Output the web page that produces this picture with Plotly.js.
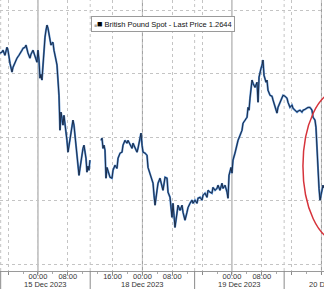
<!DOCTYPE html>
<html>
<head>
<meta charset="utf-8">
<script src="https://cdn.plot.ly/plotly-3.0.1.min.js"></script>
<style>html,body{margin:0;padding:0;background:#fff;}#chart{width:324px;height:289px;}</style>
</head>
<body>
<div id="chart"></div>
<script>
// ---- data (GBP spot, intraday) ----
const seriesName = "British Pound Spot - Last Price 1.2644";
const times = [
 "2023-12-14 13:49","2023-12-14 14:21","2023-12-14 14:37","2023-12-14 15:09","2023-12-14 15:41","2023-12-14 15:57",
 "2023-12-14 16:30","2023-12-14 17:02","2023-12-14 17:18","2023-12-14 17:50","2023-12-14 18:22","2023-12-14 18:54",
 "2023-12-14 19:10","2023-12-14 19:43","2023-12-14 19:59","2023-12-14 20:31","2023-12-14 20:47","2023-12-14 21:03",
 "2023-12-14 21:19","2023-12-14 21:51","2023-12-14 22:07","2023-12-14 22:40","2023-12-14 23:12","2023-12-14 23:44",
 "2023-12-15 00:00","2023-12-15 00:16","2023-12-15 00:32","2023-12-15 00:48","2023-12-15 01:04","2023-12-15 01:20",
 "2023-12-15 01:37","2023-12-15 01:53","2023-12-15 02:09","2023-12-15 02:25","2023-12-15 02:41","2023-12-15 02:57",
 "2023-12-15 03:13","2023-12-15 03:29","2023-12-15 03:45","2023-12-15 04:01","2023-12-15 04:17","2023-12-15 04:33",
 "2023-12-15 04:50","2023-12-15 05:06","2023-12-15 05:22","2023-12-15 05:38","2023-12-15 05:54","2023-12-15 06:10",
 "2023-12-15 06:26","2023-12-15 06:42","2023-12-15 06:58","2023-12-15 07:14","2023-12-15 07:30","2023-12-15 07:46",
 "2023-12-15 08:03","2023-12-15 08:19","2023-12-15 08:35","2023-12-15 08:51","2023-12-15 09:07","2023-12-15 09:23",
 "2023-12-15 09:39","2023-12-15 09:55","2023-12-15 10:11","2023-12-15 10:27","2023-12-15 10:43","2023-12-15 11:00",
 "2023-12-15 11:16","2023-12-15 11:32","2023-12-15 11:48","2023-12-15 12:04","2023-12-15 12:20","2023-12-15 12:36",
 "2023-12-15 12:52","2023-12-15 13:08","2023-12-15 13:24","2023-12-15 13:40","2023-12-15 13:56",
 "2023-12-17 12:00",
 "2023-12-17 12:54","2023-12-17 13:10","2023-12-17 13:26","2023-12-17 13:42","2023-12-17 13:58","2023-12-17 14:14",
 "2023-12-17 14:30","2023-12-17 14:47","2023-12-17 15:03","2023-12-17 15:19","2023-12-17 15:51","2023-12-17 16:07",
 "2023-12-17 16:39","2023-12-17 17:11","2023-12-17 17:28","2023-12-17 18:00","2023-12-17 18:32","2023-12-17 18:48",
 "2023-12-17 19:20","2023-12-17 19:52","2023-12-17 20:08","2023-12-17 20:40","2023-12-17 21:13","2023-12-17 21:29",
 "2023-12-17 22:01","2023-12-17 22:33","2023-12-17 22:49","2023-12-17 23:21","2023-12-17 23:37","2023-12-17 23:54",
 "2023-12-18 00:10","2023-12-18 00:42","2023-12-18 01:14","2023-12-18 01:30","2023-12-18 02:02","2023-12-18 02:34",
 "2023-12-18 02:51","2023-12-18 03:07","2023-12-18 03:23","2023-12-18 03:55","2023-12-18 04:11","2023-12-18 04:43",
 "2023-12-18 05:15","2023-12-18 05:31","2023-12-18 06:04","2023-12-18 06:36","2023-12-18 06:52","2023-12-18 07:24",
 "2023-12-18 07:56","2023-12-18 08:12","2023-12-18 08:28","2023-12-18 08:44","2023-12-18 09:16","2023-12-18 09:33",
 "2023-12-18 10:05","2023-12-18 10:37","2023-12-18 10:53","2023-12-18 11:25","2023-12-18 11:57","2023-12-18 12:14",
 "2023-12-18 12:46","2023-12-18 13:18","2023-12-18 13:34","2023-12-18 14:06","2023-12-18 14:38","2023-12-18 14:54",
 "2023-12-18 15:27","2023-12-18 15:59","2023-12-18 16:15","2023-12-18 16:47","2023-12-18 17:19","2023-12-18 17:35",
 "2023-12-18 18:07","2023-12-18 18:39","2023-12-18 18:55","2023-12-18 19:28","2023-12-18 20:00","2023-12-18 20:16",
 "2023-12-18 20:48","2023-12-18 21:20","2023-12-18 21:36","2023-12-18 22:09","2023-12-18 22:41","2023-12-18 22:57",
 "2023-12-18 23:13","2023-12-18 23:29","2023-12-18 23:45","2023-12-19 00:01","2023-12-19 00:17","2023-12-19 00:49",
 "2023-12-19 01:06","2023-12-19 01:22","2023-12-19 01:38","2023-12-19 02:10","2023-12-19 02:42","2023-12-19 02:58",
 "2023-12-19 03:30","2023-12-19 04:03","2023-12-19 04:19","2023-12-19 04:35","2023-12-19 04:51","2023-12-19 05:07",
 "2023-12-19 05:23","2023-12-19 05:39","2023-12-19 06:11","2023-12-19 06:43","2023-12-19 07:00","2023-12-19 07:16",
 "2023-12-19 07:32","2023-12-19 07:48","2023-12-19 08:04","2023-12-19 08:20","2023-12-19 08:36","2023-12-19 09:08",
 "2023-12-19 09:24","2023-12-19 09:40","2023-12-19 10:13","2023-12-19 10:45","2023-12-19 11:01","2023-12-19 11:33",
 "2023-12-19 12:05","2023-12-19 12:21","2023-12-19 12:54","2023-12-19 13:26","2023-12-19 13:42","2023-12-19 14:14",
 "2023-12-19 14:46","2023-12-19 15:02","2023-12-19 15:34","2023-12-19 16:07","2023-12-19 16:23","2023-12-19 16:55",
 "2023-12-19 17:27","2023-12-19 17:43","2023-12-19 18:15","2023-12-19 18:47","2023-12-19 19:03","2023-12-19 19:36",
 "2023-12-19 20:08","2023-12-19 20:24","2023-12-19 20:56","2023-12-19 21:28","2023-12-19 21:44","2023-12-19 22:00",
 "2023-12-19 22:16","2023-12-19 22:32","2023-12-19 22:48","2023-12-19 23:05","2023-12-19 23:21","2023-12-19 23:37",
 "2023-12-19 23:53","2023-12-20 00:09","2023-12-20 00:25","2023-12-20 00:40"
];
const prices = [
 1.26865,1.26868,1.26874,1.26858,1.26883,1.26874,
 1.26833,1.26805,1.26820,1.26836,1.26849,1.26858,
 1.26865,1.26874,1.26880,1.26883,1.26890,1.26874,
 1.26865,1.26849,1.26861,1.26874,1.26852,1.26836,
 1.26874,1.26843,1.26786,1.26798,1.26780,1.26833,
 1.26874,1.26915,1.26937,1.26953,1.26943,1.26928,
 1.26915,1.26890,1.26896,1.26899,1.26874,1.26852,
 1.26843,1.26827,1.26789,1.26732,1.26622,1.26679,
 1.26660,1.26638,1.26669,1.26647,1.26622,1.26590,
 1.26553,1.26575,1.26597,1.26622,1.26647,1.26654,
 1.26638,1.26606,1.26575,1.26553,1.26512,1.26480,
 1.26502,1.26528,1.26550,1.26565,1.26575,1.26559,
 1.26534,1.26490,1.26509,1.26496,1.26528,
 null,
 1.26590,1.26597,1.26565,1.26575,1.26559,1.26471,
 1.26505,1.26496,1.26483,1.26474,1.26471,1.26496,
 1.26512,1.26502,1.26534,1.26550,1.26553,1.26575,
 1.26590,1.26581,1.26590,1.26575,1.26565,1.26581,
 1.26565,1.26553,1.26565,1.26600,1.26613,1.26575,
 1.26553,1.26550,1.26543,1.26505,1.26487,1.26471,
 1.26455,1.26417,1.26386,1.26433,1.26455,1.26471,
 1.26449,1.26433,1.26474,1.26471,1.26427,1.26411,
 1.26348,1.26392,1.26354,1.26316,1.26361,1.26386,
 1.26370,1.26386,1.26364,1.26339,1.26364,1.26379,
 1.26392,1.26402,1.26392,1.26402,1.26392,1.26408,
 1.26411,1.26402,1.26417,1.26424,1.26411,1.26433,
 1.26427,1.26424,1.26442,1.26433,1.26439,1.26449,
 1.26433,1.26455,1.26439,1.26449,1.26427,1.26408,
 1.26480,1.26496,1.26505,1.26487,1.26528,1.26550,
 1.26568,1.26584,1.26590,1.26606,1.26622,1.26644,
 1.26654,1.26663,1.26694,1.26685,1.26723,1.26757,
 1.26780,1.26770,1.26757,1.26773,1.26710,1.26789,
 1.26811,1.26817,1.26827,1.26843,1.26795,1.26773,
 1.26780,1.26748,1.26732,1.26729,1.26717,1.26694,
 1.26676,1.26694,1.26710,1.26723,1.26732,1.26729,
 1.26723,1.26710,1.26694,1.26701,1.26691,1.26685,
 1.26679,1.26682,1.26685,1.26679,1.26685,1.26688,
 1.26691,1.26694,1.26694,1.26685,1.26663,1.26660,
 1.26654,1.26631,1.26559,1.26480,1.26439,1.26402,
 1.26417,1.26433,1.26449,1.26440
];
const tickVals = ["2023-12-14 16:00","2023-12-15 00:00","2023-12-15 08:00","2023-12-17 16:00","2023-12-18 00:00",
  "2023-12-18 08:00","2023-12-18 16:00","2023-12-19 00:00","2023-12-19 08:00","2023-12-19 16:00","2023-12-20 00:00"];
const tickText = ["","00:00","08:00","16:00","00:00","08:00","","00:00","08:00","","00:00"];
const sessionBreaks = ["2023-12-14 14:00","2023-12-15 14:00","2023-12-18 14:00","2023-12-19 14:00"];
const dateLabels = ["15 Dec 2023","18 Dec 2023","19 Dec 2023","20 Dec 2023"];
const dateLabelAt = ["2023-12-15 02:00","2023-12-18 00:00","2023-12-19 02:00","2023-12-20 00:00"];
const priceGrid = [1.262,1.264,1.266,1.268,1.270];

// ---- drawing ----
const traces = [
  {x: times, y: prices, type: "scatter", mode: "lines", connectgaps: false,
   line: {color: "#4f88cc", width: 2}, hoverinfo: "skip", showlegend: false},
  {x: times, y: prices, type: "scatter", mode: "lines", connectgaps: false,
   line: {color: "#16233a", width: 0.9}, name: seriesName, showlegend: false}
];

const shapes = [];
tickVals.forEach((v, i) => {
  if (tickText[i] === "00:00") {
    shapes.push({type: "line", xref: "x", yref: "paper", x0: v, x1: v, y0: -0.012, y1: 1,
                 line: {color: "#9a9a9a", width: 1}, layer: "below"});
  }
});
sessionBreaks.forEach(v => {
  shapes.push({type: "line", xref: "x", yref: "paper", x0: v, x1: v, y0: 0, y1: 1,
               line: {color: "#c4c4c4", width: 1, dash: "dot"}, layer: "below"});
  shapes.push({type: "line", xref: "x", yref: "paper", x0: v, x1: v, y0: -0.07, y1: 0,
               line: {color: "#8a8a8a", width: 1}});
});
// red highlight ellipse
shapes.push({type: "circle", xref: "paper", yref: "paper", x0: 0.935, x1: 1.151, y0: 0.112, y1: 0.663,
             line: {color: "#d6333b", width: 1.5}});

const annotations = dateLabels.map((t, i) => ({
  text: t, xref: "x", yref: "paper", x: dateLabelAt[i], y: -0.05,
  xanchor: i === dateLabels.length - 1 ? "left" : "center",
  xshift: i === dateLabels.length - 1 ? -14 : 0,
  yanchor: "middle", showarrow: false,
  font: {family: "Liberation Sans, Arial, sans-serif", size: 7.5, color: "#333"}
}));
annotations.push({
  text: '<span style="font-size:5px;color:#a8a8a8">■</span><span style="font-size:9px;color:#000">■</span> ' + seriesName,
  xref: "paper", yref: "paper", x: 0.5046, y: 0.9114, xanchor: "center", yanchor: "middle",
  showarrow: false, bgcolor: "#ffffff", bordercolor: "#9a9a9a", borderwidth: 1, borderpad: 2,
  font: {family: "Liberation Sans, Arial, sans-serif", size: 7.5, color: "#111"}
});

const layout = {
  width: 324, height: 289,
  margin: {l: 0, r: 0, t: 0, b: 18, pad: 0},
  paper_bgcolor: "#ffffff", plot_bgcolor: "#ffffff",
  showlegend: false,
  xaxis: {
    type: "date",
    range: ["2023-12-14 13:49", "2023-12-20 00:41"],
    rangebreaks: [{values: ["2023-12-15 14:00"], dvalue: 44 * 3600 * 1000}],
    tickmode: "array", tickvals: tickVals, ticktext: tickText,
    showgrid: true, gridcolor: "#c4c4c4", griddash: "dot", gridwidth: 1,
    ticks: "outside", ticklen: 3, tickcolor: "#8a8a8a", tickwidth: 1,
    ticklabelstandoff: -5,
    minor: {dtick: 4 * 3600 * 1000, ticks: "outside", ticklen: 2, tickcolor: "#aaaaaa", showgrid: false},
    showline: true, linecolor: "#9a9a9a", linewidth: 1, zeroline: false,
    tickfont: {family: "Liberation Sans, Arial, sans-serif", size: 7.5, color: "#333"},
    fixedrange: true
  },
  yaxis: {
    range: [1.26179, 1.27032],
    tickmode: "array", tickvals: priceGrid, showticklabels: false,
    showgrid: true, gridcolor: "#c4c4c4", griddash: "dot", gridwidth: 1,
    zeroline: false, showline: false, ticks: "", fixedrange: true
  },
  shapes: shapes,
  annotations: annotations
};

Plotly.newPlot("chart", traces, layout, {displayModeBar: false, staticPlot: true});
</script>
</body>
</html>
